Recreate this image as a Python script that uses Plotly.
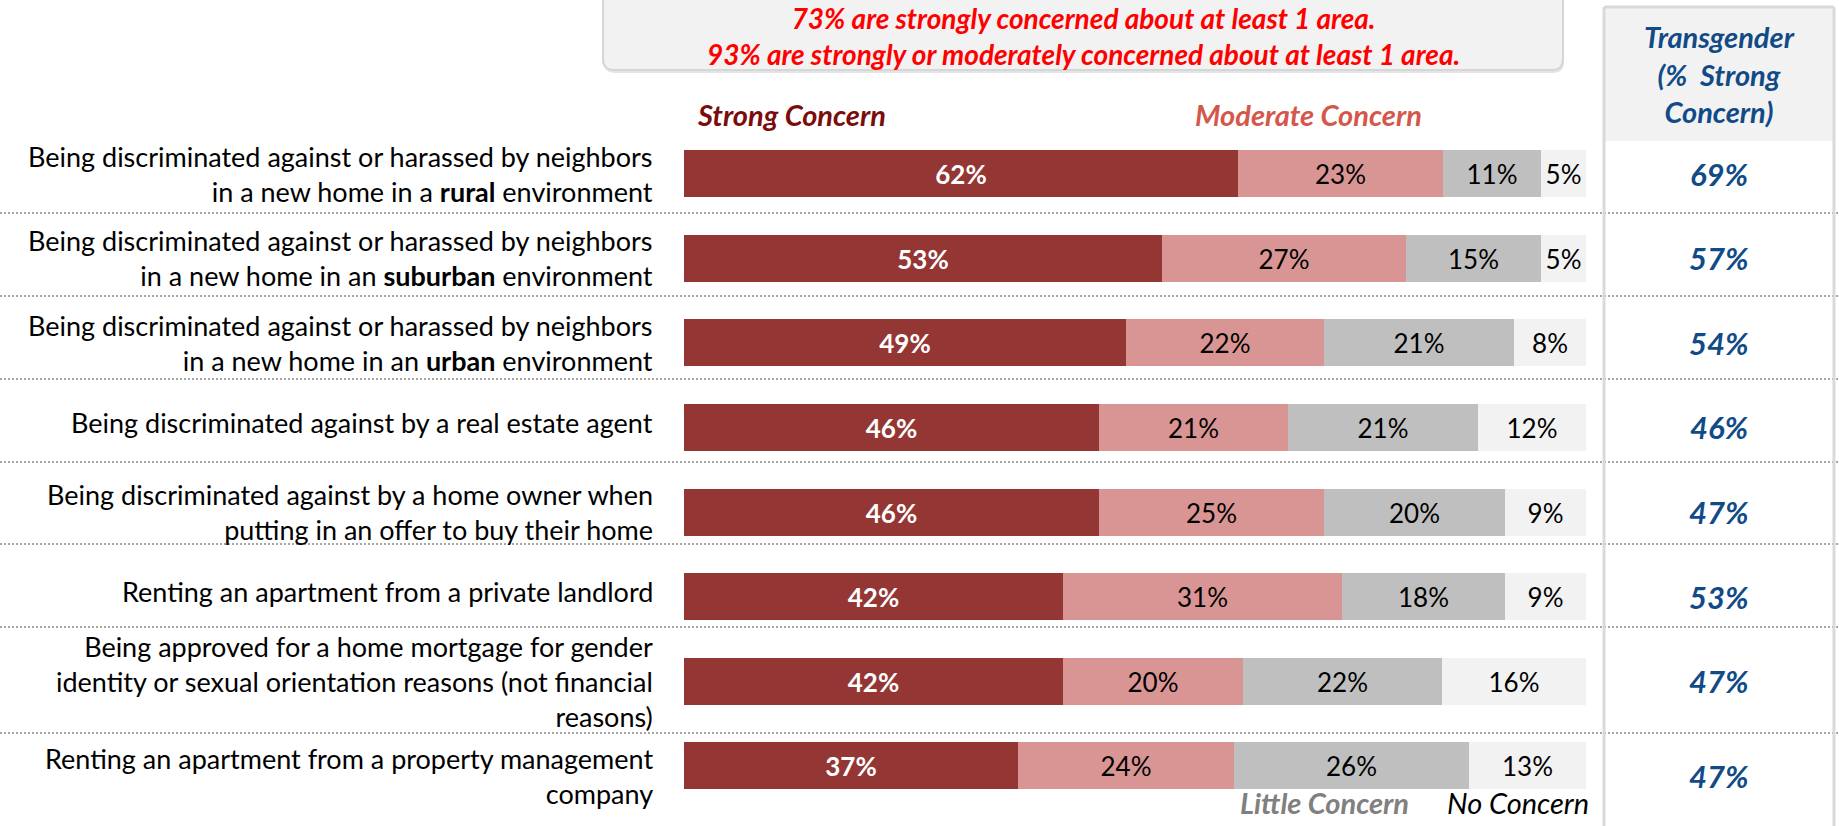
import plotly.graph_objects as go

# ---- data -------------------------------------------------------------
categories = [
    "Being discriminated against or harassed by neighbors<br>in a new home in a <b>rural</b> environment",
    "Being discriminated against or harassed by neighbors<br>in a new home in an <b>suburban</b> environment",
    "Being discriminated against or harassed by neighbors<br>in a new home in an <b>urban</b> environment",
    "Being discriminated against by a real estate agent",
    "Being discriminated against by a home owner when<br>putting in an offer to buy their home",
    "Renting an apartment from a private landlord",
    "Being approved for a home mortgage for gender<br>identity or sexual orientation reasons (not financial<br>reasons)",
    "Renting an apartment from a property management<br>company",
]
strong = [62, 53, 49, 46, 46, 42, 42, 37]
moderate = [23, 27, 22, 21, 25, 31, 20, 24]
little = [11, 15, 21, 21, 20, 18, 22, 26]
no_concern = [5, 5, 8, 12, 9, 9, 16, 13]
transgender_strong = [69, 57, 54, 46, 47, 53, 47, 47]

series_names = ["Strong Concern", "Moderate Concern", "Little Concern", "No Concern"]
series_values = [strong, moderate, little, no_concern]
series_colors = ["#943634", "#d99594", "#bfbfbf", "#f2f2f2"]
series_text_colors = ["#ffffff", "#000000", "#000000", "#000000"]
series_text_weights = ["bold", "normal", "normal", "normal"]

headline_lines = [
    "73% are strongly concerned about at least 1 area.",
    "93% are strongly or moderately concerned about at least 1 area.",
]
side_header = "Transgender<br>(%\u00a0 Strong<br>Concern)"

# ---- page geometry (pixels) -------------------------------------------
W, H = 1839, 826
FONT = "Lato, 'Open Sans', sans-serif"


def px(x):
    return x / W


def py(y):
    return 1 - y / H


n = len(categories)
row_top_px, row_step_px = 173.5, 84.64
y_top = -row_top_px / row_step_px
y_bottom = y_top + H / row_step_px

# each row is drawn as a 100% stacked bar
row_totals = [sum(vals) for vals in zip(*series_values)]

fig = go.Figure()
rows = list(range(n))
for name, vals, col, tcol, tw in zip(series_names, series_values, series_colors,
                                     series_text_colors, series_text_weights):
    fig.add_trace(go.Bar(
        name=name,
        y=rows,
        x=[v * 100 / t for v, t in zip(vals, row_totals)],
        orientation="h",
        width=0.555,
        marker=dict(color=col, line=dict(width=0)),
        text=[f"{v}%" for v in vals],
        textposition="inside",
        insidetextanchor="middle",
        constraintext="none",
        textangle=0,
        textfont=dict(family=FONT, size=26, color=tcol, weight=tw),
        hoverinfo="skip",
        showlegend=False,
    ))

shapes = []

# dotted row separators
for sy in [213, 296, 379, 462, 544, 627, 733]:
    shapes.append(dict(type="line", xref="paper", yref="paper",
                       x0=0, x1=1, y0=py(sy), y1=py(sy),
                       line=dict(color="#a6a6a6", width=2, dash="2px,2px")))

# headline call-out box with rounded bottom corners
bx0, bx1, by0, by1, r = 603, 1563, -12, 70, 11


def rounded_path(x0, x1, y0, y1, r):
    return (f"M {px(x0)},{py(y0)} L {px(x0)},{py(y1 - r)} "
            f"Q {px(x0)},{py(y1)} {px(x0 + r)},{py(y1)} "
            f"L {px(x1 - r)},{py(y1)} "
            f"Q {px(x1)},{py(y1)} {px(x1)},{py(y1 - r)} "
            f"L {px(x1)},{py(y0)} Z")


shapes.append(dict(type="path", xref="paper", yref="paper",
                   path=rounded_path(bx0 + 1, bx1 + 1, by0, by1 + 3, r),
                   fillcolor="#e4e4e4", line=dict(width=0)))
shapes.append(dict(type="path", xref="paper", yref="paper",
                   path=rounded_path(bx0, bx1, by0, by1, r),
                   fillcolor="#f2f2f2", line=dict(color="#d6d6d6", width=2)))

# side panel: shaded header and frame
sx0, sx1, sy0, sy1 = 1604, 1834, 7, 141
shapes.append(dict(type="rect", xref="paper", yref="paper",
                   x0=px(sx0), x1=px(sx1), y0=py(sy1), y1=py(sy0),
                   fillcolor="#f2f2f2", line=dict(width=0)))
for x in (sx0, sx1):
    shapes.append(dict(type="line", xref="paper", yref="paper",
                       x0=px(x), x1=px(x), y0=py(sy0), y1=0,
                       line=dict(color="#d9d9d9", width=3)))
shapes.append(dict(type="line", xref="paper", yref="paper",
                   x0=px(sx0), x1=px(sx1), y0=py(sy0), y1=py(sy0),
                   line=dict(color="#d9d9d9", width=3)))

annotations = []

# category labels, right aligned against the bars
for i, label in enumerate(categories):
    lines = label.count("<br>") + 1
    shift = 5 if lines == 1 else 0
    if i == n - 1:
        shift = -10
    annotations.append(dict(
        xref="paper", yref="y", x=px(655), y=i, yshift=shift,
        xanchor="right", yanchor="middle", align="right",
        text=label, showarrow=False,
        font=dict(family=FONT, size=27, color="#000000"),
    ))

# transgender column values
for i, v in enumerate(transgender_strong):
    annotations.append(dict(
        xref="paper", yref="y", x=px((sx0 + sx1) / 2), y=i,
        yshift=-10 if i == n - 1 else 0,
        xanchor="center", yanchor="middle",
        text=f"{v}%", showarrow=False,
        font=dict(family=FONT, size=31, color="#114b87",
                  weight="bold", style="italic"),
    ))

annotations.append(dict(
    xref="paper", yref="paper", x=px((sx0 + sx1) / 2), y=py(74),
    xanchor="center", yanchor="middle", align="center",
    text=side_header, showarrow=False,
    font=dict(family=FONT, size=29, color="#114b87",
              weight="bold", style="italic"),
))

# headline, hanging from the top edge of the page
annotations.append(dict(
    xref="paper", yref="paper", x=px((bx0 + bx1) / 2), y=1,
    xanchor="center", yanchor="top", align="center", borderpad=0,
    text="<br>".join(headline_lines), showarrow=False,
    font=dict(family=FONT, size=28, color="#ff0000",
              weight="bold", style="italic"),
))

# series captions
captions = [
    (series_names[0], 695, "left", 114, "#7b0c0c", "bold"),
    (series_names[1], 1424, "right", 114, "#d4574c", "bold"),
    (series_names[2], 1411, "right", 802, "#808080", "bold"),
    (series_names[3], 1591, "right", 802, "#000000", "normal"),
]
for text, x, anchor, y, col, weight in captions:
    annotations.append(dict(
        xref="paper", yref="paper", x=px(x), y=py(y),
        xanchor=anchor, yanchor="middle",
        text=text, showarrow=False,
        font=dict(family=FONT, size=29, color=col, weight=weight, style="italic"),
    ))

fig.update_layout(
    width=W, height=H,
    margin=dict(l=0, r=0, t=0, b=0),
    paper_bgcolor="#ffffff", plot_bgcolor="rgba(0,0,0,0)",
    barmode="stack", bargap=0,
    xaxis=dict(domain=[px(684), px(1586)], range=[0, 100], visible=False, fixedrange=True),
    yaxis=dict(domain=[0, 1], range=[y_bottom, y_top], visible=False, fixedrange=True),
    shapes=shapes,
    annotations=annotations,
    font=dict(family=FONT),
)

fig.write_html("out.html")
